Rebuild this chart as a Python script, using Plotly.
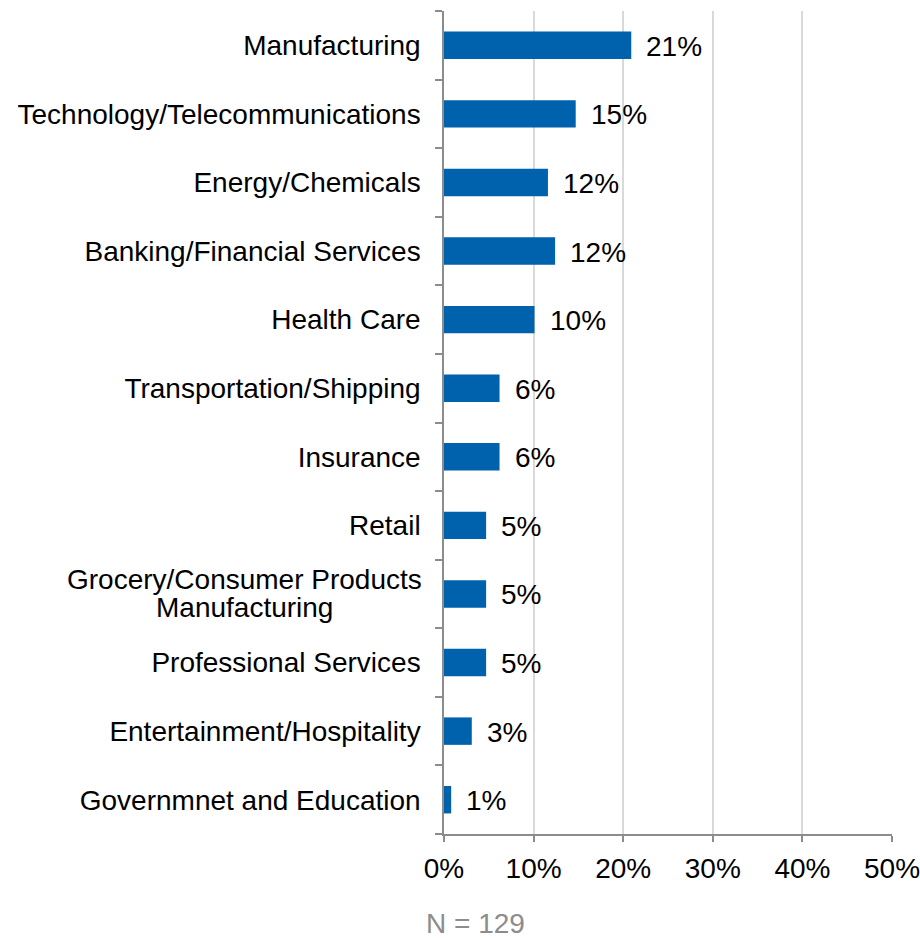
import plotly.graph_objects as go

# Industry breakdown of respondents (share of total, in percent)
industries = [
    "Manufacturing",
    "Technology/Telecommunications",
    "Energy/Chemicals",
    "Banking/Financial Services",
    "Health Care",
    "Transportation/Shipping",
    "Insurance",
    "Retail",
    "Grocery/Consumer Products<br>Manufacturing",
    "Professional Services",
    "Entertainment/Hospitality",
    "Governmnet and Education",
]
shares = [20.9, 14.7, 11.6, 12.4, 10.1, 6.2, 6.2, 4.7, 4.7, 4.7, 3.1, 0.8]
x_ticks = [0, 10, 20, 30, 40, 50]
sample_note = "N = 129"

FONT = "Arial, Liberation Sans, sans-serif"
FONT_SIZE = 28
BAR_COLOR = "#0061AC"
AXIS_COLOR = "#8C8C8C"
GRID_COLOR = "#D9D9D9"

# Multi-line category labels are drawn as centred annotations, one per line,
# so the line spacing stays tight
multi_line = [c for c in industries if "<br>" in c]
tick_text = ["" if c in multi_line else c for c in industries]

fig = go.Figure(
    go.Bar(
        x=shares,
        y=industries,
        orientation="h",
        marker=dict(color=BAR_COLOR, line=dict(width=0)),
        hoverinfo="skip",
    )
)

annotations = []
for v, c in zip(shares, industries):
    annotations.append(
        dict(
            x=v, y=c, xref="x", yref="y",
            text=f"{round(v)}%",
            showarrow=False, xanchor="left", yanchor="middle",
            xshift=13, yshift=-1,
            font=dict(family=FONT, size=FONT_SIZE, color="#000000"),
        )
    )

for c in multi_line:
    lines = c.split("<br>")
    # centre of the widest line is the centre of the block
    widest = max(lines, key=len)
    for i, line in enumerate(lines):
        annotations.append(
            dict(
                x=0, y=c, xref="x", yref="y",
                text=line,
                showarrow=False,
                xanchor="right" if line == widest else "center",
                yanchor="middle",
                xshift=-21 if line == widest else -200,
                yshift=14.5 - i * 28,
                borderpad=0,
                font=dict(family=FONT, size=FONT_SIZE, color="#000000"),
            )
        )

annotations.append(
    dict(
        x=-0.042, y=-106 / 823, xref="paper", yref="paper",
        text=sample_note, showarrow=False,
        xanchor="left", yanchor="bottom",
        borderpad=0,
        font=dict(family=FONT, size=FONT_SIZE, color="#8C8C8C"),
    )
)

fig.update_layout(
    width=920,
    height=940,
    margin=dict(l=444, r=28, t=11, b=106, autoexpand=False),
    paper_bgcolor="white",
    plot_bgcolor="white",
    bargap=0.6,
    showlegend=False,
    font=dict(family=FONT, size=FONT_SIZE, color="#000000"),
    annotations=annotations,
    xaxis=dict(
        range=[0, 50],
        tickvals=x_ticks,
        ticktext=[f"{t}%" for t in x_ticks],
        showgrid=True,
        gridcolor=GRID_COLOR,
        gridwidth=1.5,
        zeroline=False,
        showline=True,
        linecolor=AXIS_COLOR,
        linewidth=1.5,
        ticks="outside",
        ticklen=6,
        tickwidth=1.5,
        tickcolor=AXIS_COLOR,
        ticklabelstandoff=3,
        ticklabeloverflow="allow",
        automargin=False,
        tickfont=dict(family=FONT, size=FONT_SIZE, color="#000000"),
        fixedrange=True,
    ),
    yaxis=dict(
        categoryorder="array",
        categoryarray=industries,
        autorange="reversed",
        tickmode="array",
        tickvals=industries,
        ticktext=tick_text,
        tickson="boundaries",
        ticks="outside",
        ticklen=7,
        tickwidth=1.5,
        tickcolor=AXIS_COLOR,
        ticklabelstandoff=16,
        automargin=False,
        showline=True,
        linecolor=AXIS_COLOR,
        linewidth=1.5,
        showgrid=False,
        zeroline=False,
        tickfont=dict(family=FONT, size=FONT_SIZE, color="#000000"),
        fixedrange=True,
    ),
)

fig.write_html("out.html")
